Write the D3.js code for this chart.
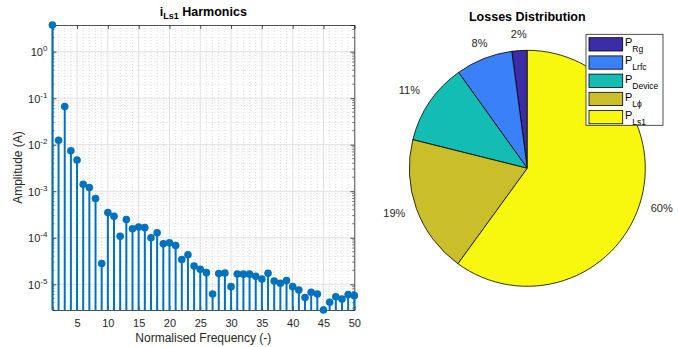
<!DOCTYPE html>
<html>
<head>
<meta charset="utf-8">
<script src="https://cdn.jsdelivr.net/npm/d3@7"></script>
<style>
  html, body { margin: 0; padding: 0; background: #fff; }
  svg { display: block; font-family: "Liberation Sans", Arial, Helvetica, sans-serif; }
</style>
</head>
<body>
<svg id="fig" width="678" height="347"></svg>
<script>
// Harmonic orders of the inductor current spectrum
const harmonicOrder = [1,2,3,4,5,6,7,8,9,10,11,12,13,14,15,16,17,18,19,20,21,22,23,24,25,
  26,27,28,29,30,31,32,33,34,35,36,37,38,39,40,41,42,43,44,45,46,47,48,49,50];
// Amplitude of each harmonic (A)
const amplitude = [3.74,0.0125,0.066,0.0074,0.0047,0.00141,0.0012,0.0007,2.8e-5,0.00035,
  0.00029,0.000108,0.000247,0.000156,0.00017,0.000165,0.0001,0.000128,7.4e-5,7.8e-5,
  6.8e-5,3.4e-5,4.3e-5,2.46e-5,2.1e-5,1.78e-5,6.2e-6,1.7e-5,1.75e-5,8.9e-6,
  1.66e-5,1.65e-5,1.65e-5,1.48e-5,1.3e-5,1.72e-5,1.18e-5,1.05e-5,1.2e-5,8.9e-6,
  7.5e-6,5.2e-6,6.7e-6,6.2e-6,2.8e-6,4.1e-6,5.4e-6,4.8e-6,6e-6,5.7e-6];
const xTicks = [5,10,15,20,25,30,35,40,45,50];
const yTickExponents = [0,-1,-2,-3,-4,-5];

// Loss breakdown (%)
const lossNames = ["Rg","Lrfc","Device","L\u03D5","Ls1"];
const lossShare = [2.1,7.8,11.2,18.9,60.0];
const lossLabels = ["2%","8%","11%","19%","60%"];
const lossColors = ["#3c2ca8","#3a80f8","#14bdb4","#cabe2b","#f8f80e"];

const svg = d3.select("#fig");
const axisColor = "#262626";

// ---------- Stem plot ----------
const L = 52.4, R = 354.3, T = 25, B = 310;
const x = d3.scaleLinear().domain([1, 50]).range([L, R]);
const y = d3.scaleLog().domain(d3.extent(amplitude)).range([B, T]);

const g = svg.append("g");
g.append("rect").attr("x", L).attr("y", T).attr("width", R - L).attr("height", B - T).attr("fill", "#fff");

// minor grid (dotted)
const minorX = harmonicOrder.filter(v => v % 5 !== 0 && v > 1);
const [yLo, yHi] = y.domain();
const minorY = [];
for (let e = -6; e <= 0; e++) for (let m = 2; m <= 9; m++) {
  const v = m * Math.pow(10, e);
  if (v > yLo && v < yHi) minorY.push(v);
}
g.append("g").selectAll("line").data(minorX).join("line")
  .attr("x1", d => x(d)).attr("x2", d => x(d)).attr("y1", T).attr("y2", B)
  .attr("stroke", "#c4c4c4").attr("stroke-width", 0.6).attr("stroke-dasharray", "1,2");
g.append("g").selectAll("line").data(minorY).join("line")
  .attr("x1", L).attr("x2", R).attr("y1", d => y(d)).attr("y2", d => y(d))
  .attr("stroke", "#c4c4c4").attr("stroke-width", 0.6).attr("stroke-dasharray", "1,2");
// major grid
g.append("g").selectAll("line").data(xTicks).join("line")
  .attr("x1", d => x(d)).attr("x2", d => x(d)).attr("y1", T).attr("y2", B)
  .attr("stroke", "#e0e0e0").attr("stroke-width", 1);
g.append("g").selectAll("line").data(yTickExponents).join("line")
  .attr("x1", L).attr("x2", R).attr("y1", d => y(Math.pow(10, d))).attr("y2", d => y(Math.pow(10, d)))
  .attr("stroke", "#e0e0e0").attr("stroke-width", 1);

// axes with inward ticks
const xAxis = d3.axisBottom(x).tickValues(xTicks).tickSize(-4).tickPadding(9).tickFormat(d3.format("d"));
const gx = g.append("g").attr("transform", `translate(0,${B})`).call(xAxis);
g.append("g").attr("transform", `translate(0,${T})`)
  .call(d3.axisTop(x).tickValues(xTicks).tickSize(-4).tickFormat(""));
const yAxis = d3.axisLeft(y).tickValues(yTickExponents.map(e => Math.pow(10, e))).tickSize(-4).tickPadding(6).tickFormat("");
const gy = g.append("g").attr("transform", `translate(${L},0)`).call(yAxis);
g.append("g").attr("transform", `translate(${R},0)`)
  .call(d3.axisRight(y).tickValues(yTickExponents.map(e => Math.pow(10, e))).tickSize(-4).tickFormat(""));
// minor y ticks
[L, R].forEach((px, i) => {
  g.append("g").selectAll("line").data(minorY).join("line")
    .attr("x1", px).attr("x2", i === 0 ? px + 2 : px - 2)
    .attr("y1", d => y(d)).attr("y2", d => y(d))
    .attr("stroke", axisColor).attr("stroke-width", 0.6);
});
g.selectAll(".domain").attr("stroke", axisColor).attr("stroke-width", 0.8);
g.selectAll(".tick line").attr("stroke", axisColor).attr("stroke-width", 0.8);
gx.selectAll("text").attr("font-size", 11).attr("fill", axisColor)
  .attr("font-family", "'Liberation Sans', Arial, sans-serif");
// power-of-ten labels
gy.selectAll(".tick").each(function (d) {
  const t = d3.select(this).append("text").attr("x", -5).attr("y", 4)
    .attr("text-anchor", "end").attr("fill", axisColor)
    .attr("font-family", "'Liberation Sans', Arial, sans-serif").attr("font-size", 11);
  t.append("tspan").text("10");
  t.append("tspan").attr("dy", -5).attr("font-size", 8).text(Math.round(Math.log10(d)));
});

// stems and markers
const stems = g.append("g");
stems.selectAll("line").data(harmonicOrder).join("line")
  .attr("x1", d => x(d)).attr("x2", d => x(d))
  .attr("y1", B).attr("y2", (d, i) => y(amplitude[i]))
  .attr("stroke", "#0072BD").attr("stroke-width", 2);
stems.selectAll("circle").data(harmonicOrder).join("circle")
  .attr("cx", d => x(d)).attr("cy", (d, i) => y(amplitude[i])).attr("r", 3.8)
  .attr("fill", "#0072BD");

// titles
const t1 = svg.append("text").attr("x", (L + R) / 2).attr("y", 16).attr("text-anchor", "middle")
  .attr("font-weight", "bold").attr("font-size", 12.5).attr("fill", "#000");
t1.append("tspan").text("i");
t1.append("tspan").attr("dy", 3).attr("font-size", 9).text("Ls1");
t1.append("tspan").attr("dy", -3).text(" Harmonics");
svg.append("text").attr("x", (L + R) / 2).attr("y", 342).attr("text-anchor", "middle")
  .attr("font-size", 12).attr("fill", axisColor).text("Normalised Frequency (-)");
svg.append("text").attr("transform", `translate(22,${(T + B) / 2}) rotate(-90)`)
  .attr("text-anchor", "middle").attr("font-size", 12).attr("fill", axisColor).text("Amplitude (A)");

// ---------- Pie chart ----------
const cx = 527.3, cy = 168.3, r = 118;
// slices run counter-clockwise from 12 o'clock
const pie = d3.pie().sort(null).startAngle(0).endAngle(-2 * Math.PI);
const arcs = pie(lossShare);
const arc = d3.arc().innerRadius(0).outerRadius(r);
const pg = svg.append("g").attr("transform", `translate(${cx},${cy})`);
pg.selectAll("path").data(arcs).join("path")
  .attr("d", arc).attr("fill", (d, i) => lossColors[i])
  .attr("stroke", "#000").attr("stroke-width", 0.8).attr("stroke-linejoin", "round");

// percentage labels at 1.1 r
pg.selectAll("text.pct").data(arcs).join("text").attr("class", "pct")
  .each(function (d, i) {
    const a = (d.startAngle + d.endAngle) / 2;
    const px = 1.1 * r * Math.sin(a), py = -1.1 * r * Math.cos(a);
    const anchor = px < -0.5 * r ? "end" : px > 0.5 * r ? "start" : "middle";
    const dy = py < 0 ? -1 : 4;
    d3.select(this).attr("x", px).attr("y", py + dy).attr("text-anchor", anchor)
      .attr("font-size", 11).attr("fill", axisColor).text(lossLabels[i]);
  });

svg.append("text").attr("x", cx).attr("y", 21).attr("text-anchor", "middle")
  .attr("font-weight", "bold").attr("font-size", 12.5).attr("fill", "#000").text("Losses Distribution");

// legend
const lg = svg.append("g").attr("transform", "translate(586,34.3)");
lg.append("rect").attr("width", 77).attr("height", 91).attr("fill", "#fff")
  .attr("stroke", axisColor).attr("stroke-width", 0.8);
const rows = lg.selectAll("g.row").data(lossNames).join("g").attr("class", "row")
  .attr("transform", (d, i) => `translate(3,${3.4 + i * 18.2})`);
rows.append("rect").attr("width", 33.7).attr("height", 13.3)
  .attr("fill", (d, i) => lossColors[i]).attr("stroke", "#000").attr("stroke-width", 0.8);
const lt = rows.append("text").attr("x", 36).attr("y", 8.5).attr("font-size", 11).attr("fill", "#000");
lt.append("tspan").text("P");
lt.append("tspan").attr("dy", 6).attr("font-size", 8.5).text(d => d);
</script>
</body>
</html>
